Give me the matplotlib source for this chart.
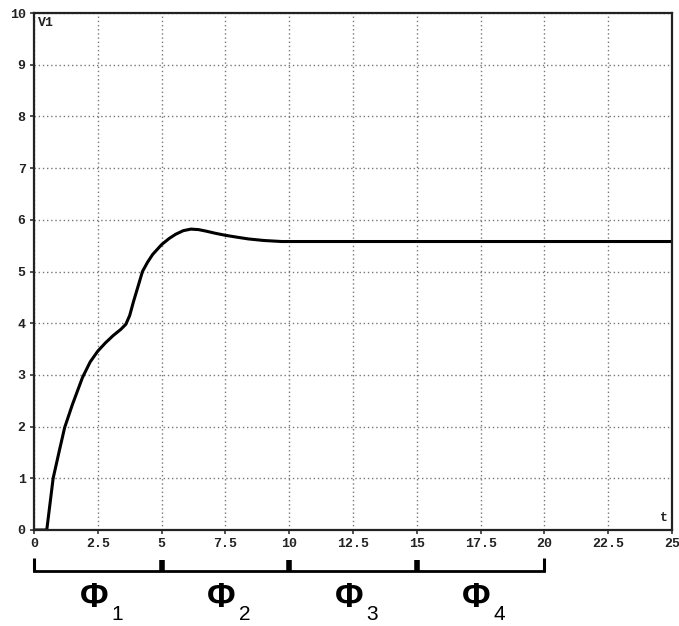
import numpy as np
import matplotlib
matplotlib.use("Agg")
import matplotlib.pyplot as plt
import matplotlib.transforms as mtransforms

# curve
t = [0, 0.5, 0.75, 1.0, 1.2, 1.5, 1.9, 2.2, 2.5, 2.8, 3.1, 3.4, 3.6,
     3.75, 3.9, 4.1, 4.25, 4.45, 4.65, 5.0, 5.3, 5.55, 5.85, 6.15, 6.45,
     6.75, 7.1, 7.5, 8.0, 8.4, 9.0, 9.7, 25]
v1 = [0, 0, 1.0, 1.55, 1.98, 2.42, 2.95, 3.25, 3.46, 3.62, 3.76, 3.88, 3.98,
      4.15, 4.42, 4.75, 5.0, 5.18, 5.33, 5.52, 5.64, 5.72, 5.79, 5.82, 5.81,
      5.78, 5.74, 5.70, 5.66, 5.63, 5.60, 5.58, 5.58]

x_ticks = [0, 2.5, 5, 7.5, 10, 12.5, 15, 17.5, 20, 22.5, 25]
x_labels = ["0", "2.5", "5", "7.5", "10", "12.5", "15", "17.5", "20", "22.5", "25"]
y_ticks = [0, 1, 2, 3, 4, 5, 6, 7, 8, 9, 10]

phase_edges = [0, 5, 10, 15, 20]
phase_subs = ["1", "2", "3", "4"]

mono = dict(family="Liberation Mono", fontsize=9.5, fontweight="bold", color="#222222")

fig = plt.figure(figsize=(6.79, 6.26), dpi=100)
ax = fig.add_axes([34 / 679, 1 - 530 / 626, 638 / 679, 517 / 626])

ax.plot(t, v1, color="black", lw=2.2, solid_capstyle="round", solid_joinstyle="round")

ax.set_xlim(0, 25)
ax.set_ylim(0, 10)
ax.set_xticks(x_ticks)
ax.set_xticklabels(x_labels, **mono)
ax.set_yticks(y_ticks)
ax.set_yticklabels([str(v) for v in y_ticks], **mono)
ax.tick_params(axis="both", length=3, width=1.2, color="#333333", pad=3)
ax.grid(True, color="#777777", linestyle=(0, (1, 2)), lw=1)

for s in ax.spines.values():
    s.set_linewidth(1.6)
    s.set_color("#222222")

ax.text(0.006, 0.992, "V1", transform=ax.transAxes, ha="left", va="top", **mono)
ax.text(0.994, 0.012, "t", transform=ax.transAxes, ha="right", va="bottom", **mono)

# phase bracket under the axis
tr = mtransforms.blended_transform_factory(ax.transData, ax.transAxes)
y_line = -0.080
ax.plot([phase_edges[0], phase_edges[-1]], [y_line, y_line], color="black",
        lw=2, transform=tr, clip_on=False)
for i, e in enumerate(phase_edges):
    if i == 0 or i == len(phase_edges) - 1:
        ax.plot([e, e], [y_line, y_line + 0.025], color="black", lw=2.2,
                transform=tr, clip_on=False, solid_capstyle="butt")
    else:
        ax.plot([e, e], [y_line, y_line + 0.022], color="black", lw=4,
                transform=tr, clip_on=False, solid_capstyle="butt")

phi_tr = mtransforms.offset_copy(tr, fig=fig, x=-4, y=0, units="dots")
sub_tr = mtransforms.offset_copy(tr, fig=fig, x=19, y=-17, units="dots")
for i, sub in enumerate(phase_subs):
    mid = (phase_edges[i] + phase_edges[i + 1]) / 2
    ax.text(mid, -0.1306, "Φ", transform=phi_tr, ha="center", va="center",
            family="Liberation Sans", fontsize=25, fontweight="bold", color="black")
    ax.text(mid, -0.1306, sub, transform=sub_tr, ha="center", va="center",
            family="Liberation Sans", fontsize=15, color="black")

fig.savefig("out.png", dpi=100)
